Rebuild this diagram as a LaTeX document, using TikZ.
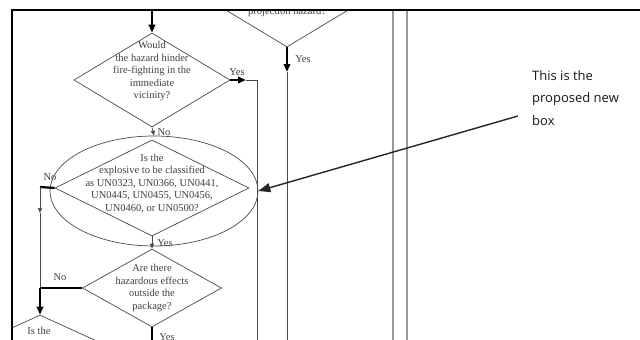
\documentclass[tikz,border=0pt]{standalone}
\usepackage{fontspec}
\setmainfont{Liberation Serif}
\newfontfamily\notefont{Open Sans}
\usetikzlibrary{shapes.geometric,arrows.meta}
\definecolor{txt}{HTML}{404040}
\definecolor{ln}{HTML}{4A4A4A}
\begin{document}
\begin{tikzpicture}[x=1pt,y=-1pt,
  dia/.style={draw=ln,line width=0.7pt,diamond,inner sep=0pt},
  qtext/.style={align=center,text=txt,font=\fontsize{10.5}{12.5}\selectfont,inner sep=0pt},
  lbl/.style={text=txt,font=\fontsize{10.5}{12}\selectfont,inner sep=0pt},
  thin/.style={draw=ln,line width=0.7pt},
  thick/.style={draw=black,line width=2.2pt},
  bigtip/.style={-{Triangle[length=8pt,width=6.5pt]}},
  smalltip/.style={-{Triangle[length=5pt,width=4pt]}},
  vline/.style={draw=gray!80,line width=1.3pt}]
\useasboundingbox (0,0) rectangle (640,340);
\fill[white] (0,0) rectangle (640,340);
\begin{scope}
\clip (12,10) rectangle (640,340);
% top diamond
\node[dia,minimum width=156pt,minimum height=94pt] (d0) at (287,0) {};
\node[lbl,anchor=base] (t0) at (287,14) {projection hazard?};
% diamond 1
\node[dia,minimum width=156pt,minimum height=94pt] (d1) at (152,80) {};
\node[qtext] (t1) at (152,71) {Would\\the hazard hinder\\fire-fighting in the\\immediate\\vicinity?};
% ellipse + diamond 2
\node[draw=ln,line width=0.7pt,ellipse,minimum width=208pt,minimum height=110pt,inner sep=0pt] (e) at (154,191) {};
\node[dia,minimum width=194pt,minimum height=96pt] (d2) at (152,188) {};
\node[qtext] (t2) at (152,183.5) {Is the\\explosive to be classified\\as UN0323, UN0366, UN0441,\\UN0445, UN0455, UN0456,\\UN0460, or UN0500?};
% diamond 3
\node[dia,minimum width=139pt,minimum height=78pt] (d3) at (152,288) {};
\node[qtext] (t3) at (152,288) {Are there\\hazardous effects\\outside the\\package?};
% diamond 4
\node[dia,minimum width=140pt,minimum height=64pt] (d4) at (40,347) {};
\node[lbl] (t4) at (39,331) {Is the};
% coordinates
\coordinate (top1) at (152,10);
\coordinate (y0) at (287,72);
\coordinate (y0end) at (287,345);
\coordinate (y1a) at (246,80);
\coordinate (y1b) at (257,80);
\coordinate (y1end) at (257,345);
\coordinate (n2a) at (40,187);
\coordinate (n2mid) at (40,213);
\coordinate (merge) at (40,288);
\coordinate (y3end) at (152,345);
% connectors
\draw[thick,bigtip] (top1) -- (d1.north);
\draw[thick,bigtip] (d0.south) -- (y0);
\draw[thin] (y0) -- (y0end);
\draw[thick,bigtip] (d1.east) -- (y1a);
\draw[thin] (y1a) -- (y1b) -- (y1end);
\draw[thin,smalltip] (d1.south) -- (e.north);
\draw[thin,smalltip] (d2.south) -- (d3.north);
\draw[thick] (d2.west) -- (n2a);
\draw[thin,smalltip] (n2a) -- (n2mid);
\draw[thin] (n2mid) -- (merge);
\draw[thick] (d3.west) -- (merge);
\draw[thick,bigtip] (merge) -- (d4.north);
\draw[thick] (d3.south) -- (y3end);
% labels
\node[lbl] (ly0) at (303,59) {Yes};
\node[lbl] (ly1) at (237,72) {Yes};
\node[lbl] (ln1) at (164,132) {No};
\node[lbl] (ln2) at (50,177) {No};
\node[lbl] (ly2) at (165,243) {Yes};
\node[lbl] (ln3) at (60,277) {No};
\node[lbl] (ly3) at (167,337) {Yes};
% vertical lines
\coordinate (v1a) at (393,10); \coordinate (v1b) at (393,345);
\coordinate (v2a) at (407,10); \coordinate (v2b) at (407,345);
\draw[vline] (v1a) -- (v1b);
\draw[vline] (v2a) -- (v2b);
\end{scope}
% frame
\draw[black,line width=2pt] (640,10) -- (12,10) -- (12,340);
% note
\node[anchor=north west,align=left,inner sep=0pt,font=\notefont\fontsize{13}{22.5}\selectfont,text=black!90] (note) at (532,70) {This is the\\proposed new\\box};
\coordinate (ptail) at (518,116);
\draw[black!85,line width=1.4pt,-{Triangle[length=12pt,width=9pt]}] (ptail) -- (e.east);
\end{tikzpicture}
\end{document}
